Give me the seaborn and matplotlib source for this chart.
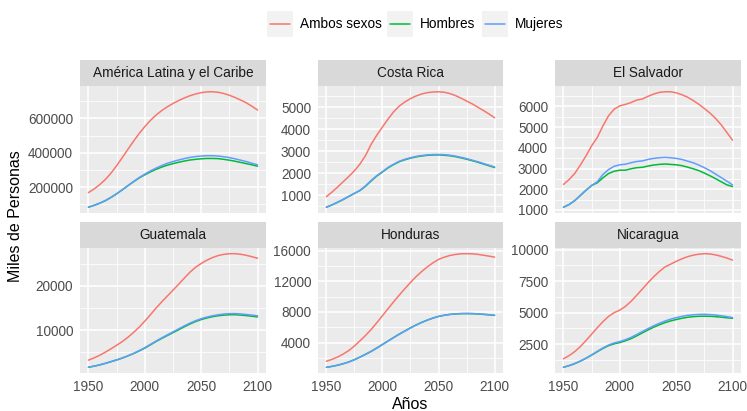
import matplotlib
matplotlib.use("Agg")
import matplotlib.pyplot as plt
from matplotlib.patches import Rectangle
from matplotlib.lines import Line2D
from matplotlib.ticker import FixedLocator
import pandas as pd
import seaborn as sns

# ---- data (thousands of people), five-year steps ----
years = list(range(1950, 2101, 5))

countries = ["América Latina y el Caribe", "Costa Rica", "El Salvador",
             "Guatemala", "Honduras", "Nicaragua"]
sexes = ["Ambos sexos", "Hombres", "Mujeres"]
sex_colors = ["#F8766D", "#00BA38", "#619CFF"]

lac_total = [169000, 190000, 215000, 245000, 282000, 325000, 372000, 420000,
             467000, 512000, 552000, 588000, 619000, 645000, 667000, 686000,
             703000, 718000, 731000, 741000, 749000, 753000, 754000, 751000,
             744000, 734000, 721000, 706000, 690000, 670000, 648000]
lac_male = [84000, 95000, 107000, 122000, 141000, 162000, 185000, 209000,
            232000, 254000, 272000, 289000, 304000, 317000, 328000, 337000,
            345000, 352000, 358000, 362000, 365000, 367000, 367000, 366000,
            362000, 357000, 351000, 344000, 337000, 330000, 322000]
lac_female = [85000, 95000, 108000, 123000, 141000, 162000, 185000, 209000,
              233000, 256000, 276000, 295000, 311000, 326000, 339000, 349000,
              358000, 366000, 373000, 378000, 381000, 383000, 383000, 381000,
              377000, 372000, 365000, 357000, 349000, 339000, 330000]

cr_total = [940, 1150, 1380, 1620, 1860, 2120, 2430, 2820,
            3330, 3740, 4110, 4470, 4800, 5060, 5250, 5400,
            5520, 5610, 5670, 5700, 5710, 5690, 5630, 5540,
            5420, 5290, 5160, 5010, 4860, 4700, 4530]
cr_male = [460, 565, 685, 810, 950, 1090, 1220, 1420,
           1660, 1880, 2060, 2250, 2400, 2530, 2620, 2690,
           2750, 2790, 2820, 2835, 2840, 2825, 2800, 2760,
           2705, 2645, 2575, 2505, 2425, 2345, 2265]
cr_female = [460, 570, 690, 820, 960, 1090, 1230, 1440,
             1680, 1900, 2080, 2270, 2420, 2550, 2640, 2710,
             2770, 2810, 2840, 2855, 2860, 2850, 2825, 2785,
             2730, 2670, 2600, 2530, 2450, 2370, 2290]

sv_total = [2230, 2470, 2760, 3170, 3610, 4100, 4500, 5060,
            5550, 5870, 6030, 6100, 6190, 6310, 6360, 6490,
            6600, 6680, 6710, 6710, 6660, 6570, 6450, 6290,
            6110, 5900, 5680, 5420, 5110, 4740, 4370]
sv_male = [1130, 1260, 1450, 1700, 1950, 2180, 2310, 2550,
           2760, 2870, 2920, 2920, 2990, 3040, 3060, 3120,
           3170, 3200, 3220, 3200, 3180, 3140, 3070, 2990,
           2900, 2780, 2650, 2510, 2360, 2210, 2130]
sv_female = [1130, 1260, 1450, 1700, 1950, 2180, 2360, 2710,
             2950, 3110, 3180, 3210, 3280, 3340, 3370, 3440,
             3490, 3520, 3540, 3520, 3490, 3440, 3360, 3280,
             3170, 3040, 2900, 2730, 2560, 2390, 2210]

gt_total = [3240, 3750, 4340, 5040, 5810, 6600, 7430, 8400,
            9490, 10700, 12060, 13500, 15000, 16400, 17720, 19050,
            20370, 21750, 23090, 24200, 25070, 25800, 26400, 26850,
            27130, 27270, 27280, 27150, 26910, 26600, 26250]
gt_male = [1620, 1880, 2160, 2510, 2900, 3290, 3720, 4200,
           4730, 5320, 5950, 6700, 7450, 8140, 8800, 9450,
           10100, 10770, 11400, 11950, 12400, 12760, 13050, 13260,
           13400, 13480, 13500, 13420, 13300, 13160, 13000]
gt_female = [1650, 1900, 2180, 2520, 2900, 3280, 3700, 4200,
             4750, 5380, 6050, 6800, 7550, 8270, 8950, 9630,
             10300, 10970, 11600, 12150, 12600, 12960, 13250, 13480,
             13650, 13730, 13750, 13670, 13550, 13410, 13250]

hn_total = [1580, 1830, 2130, 2520, 2980, 3570, 4250, 4960,
            5740, 6610, 7520, 8430, 9340, 10210, 11040, 11850,
            12610, 13280, 13880, 14400, 14850, 15140, 15360, 15500,
            15580, 15600, 15580, 15510, 15400, 15280, 15150]
hn_male = [790, 915, 1065, 1260, 1490, 1790, 2130, 2500,
           2880, 3320, 3770, 4230, 4680, 5120, 5530, 5940,
           6310, 6650, 6940, 7210, 7430, 7570, 7680, 7740,
           7780, 7790, 7780, 7740, 7690, 7630, 7560]
hn_female = [790, 915, 1065, 1260, 1490, 1780, 2120, 2480,
             2860, 3300, 3750, 4210, 4660, 5100, 5510, 5920,
             6300, 6640, 6940, 7200, 7420, 7570, 7680, 7750,
             7800, 7810, 7800, 7760, 7710, 7650, 7590]

ni_total = [1330, 1580, 1900, 2300, 2780, 3290, 3800, 4280,
            4700, 5000, 5200, 5500, 5900, 6380, 6880, 7380,
            7850, 8270, 8630, 8850, 9080, 9280, 9450, 9570,
            9650, 9690, 9670, 9590, 9480, 9340, 9180]
ni_male = [650, 780, 940, 1140, 1370, 1620, 1890, 2150,
           2370, 2520, 2620, 2760, 2930, 3150, 3390, 3620,
           3840, 4030, 4200, 4340, 4450, 4550, 4630, 4680,
           4710, 4720, 4710, 4680, 4640, 4590, 4550]
ni_female = [660, 790, 950, 1150, 1380, 1640, 1920, 2190,
             2420, 2590, 2700, 2850, 3030, 3260, 3500, 3730,
             3950, 4150, 4330, 4480, 4600, 4700, 4780, 4830,
             4860, 4870, 4850, 4810, 4750, 4680, 4610]

series = {
    countries[0]: (lac_total, lac_male, lac_female),
    countries[1]: (cr_total, cr_male, cr_female),
    countries[2]: (sv_total, sv_male, sv_female),
    countries[3]: (gt_total, gt_male, gt_female),
    countries[4]: (hn_total, hn_male, hn_female),
    countries[5]: (ni_total, ni_male, ni_female),
}

y_breaks = {
    countries[0]: [200000, 400000, 600000],
    countries[1]: [1000, 2000, 3000, 4000, 5000],
    countries[2]: [1000, 2000, 3000, 4000, 5000, 6000],
    countries[3]: [10000, 20000],
    countries[4]: [4000, 8000, 12000, 16000],
    countries[5]: [2500, 5000, 7500, 10000],
}
x_breaks = [1950, 2000, 2050, 2100]
x_minor = [1975, 2025, 2075]

rows = []
for c, vals in series.items():
    for s, v in zip(sexes, vals):
        for yr, val in zip(years, v):
            rows.append({"País": c, "Sexo": s, "Año": yr, "Población": val})
df = pd.DataFrame(rows)

# ---- figure ----
sns.set_style("white")
plt.rcParams["font.family"] = ["Liberation Sans", "DejaVu Sans"]

W, H = 747, 411
fig = plt.figure(figsize=(W / 100, H / 100), dpi=100)


def fx(px):
    return px / W


def fy(py):
    return 1 - py / H


col_x0 = [80, 318, 555]
col_x1 = [266, 503, 741]
row_top = [86, 248]
row_bot = [213, 373]
strip_h = 26

tick_col = "#4D4D4D"
for i, c in enumerate(countries):
    r, k = divmod(i, 3)
    x0, x1 = col_x0[k], col_x1[k]
    t, b = row_top[r], row_bot[r]
    ax = fig.add_axes([fx(x0), fy(b), (x1 - x0) / W, (b - t) / H])
    ax.set_facecolor("#EBEBEB")
    for sp in ax.spines.values():
        sp.set_visible(False)

    sub = df[df["País"] == c]
    sns.lineplot(data=sub, x="Año", y="Población", hue="Sexo",
                 hue_order=sexes, palette=sex_colors, ax=ax,
                 legend=False, linewidth=1.1, estimator=None)

    # limits with 5% expansion, like the default continuous scale
    ymin, ymax = sub["Población"].min(), sub["Población"].max()
    rng = ymax - ymin
    ax.set_ylim(ymin - 0.05 * rng, ymax + 0.05 * rng)
    ax.set_xlim(1950 - 0.05 * 150, 2100 + 0.05 * 150)

    yb = y_breaks[c]
    step = yb[1] - yb[0]
    yminor = [yb[0] - step / 2] + [v + step / 2 for v in yb]
    ax.yaxis.set_major_locator(FixedLocator(yb))
    ax.yaxis.set_minor_locator(FixedLocator(yminor))
    ax.set_yticklabels([str(v) for v in yb])
    ax.xaxis.set_major_locator(FixedLocator(x_breaks))
    ax.xaxis.set_minor_locator(FixedLocator(x_minor))
    ax.set_xticklabels([str(v) for v in x_breaks])

    ax.set_axisbelow(True)
    ax.grid(which="major", color="white", linewidth=1.1)
    ax.grid(which="minor", color="white", linewidth=0.55)
    ax.tick_params(which="minor", length=0)
    ax.tick_params(axis="y", which="major", length=3.5, width=0.8,
                   color="#333333", labelcolor=tick_col, labelsize=9.8, pad=1.5)
    if r == 0:
        ax.tick_params(axis="x", which="major", length=0, labelbottom=False)
    else:
        ax.tick_params(axis="x", which="major", length=3.5, width=0.8,
                       color="#333333", labelcolor=tick_col, labelsize=9.8,
                       pad=1.5)
    ax.set_xlabel("")
    ax.set_ylabel("")

    # facet strip
    ph = b - t
    ax.add_patch(Rectangle((0, 1), 1, strip_h / ph, transform=ax.transAxes,
                           clip_on=False, facecolor="#D9D9D9",
                           edgecolor="none"))
    ax.text(0.5, 1 + strip_h / ph / 2, c, transform=ax.transAxes,
            ha="center", va="center", fontsize=9.8, color="#1A1A1A")

# axis titles
fig.text(fx(16), fy(216), "Miles de Personas", rotation=90,
         ha="center", va="center", fontsize=11.5, color="black")
fig.text(fx(410), fy(404), "Años", ha="center", va="center",
         fontsize=11.5, color="black")

# legend on top
key_x = [267, 387, 482]
for kx, s, col in zip(key_x, sexes, sex_colors):
    fig.add_artist(Rectangle((fx(kx), fy(37)), 26 / W, 26 / H,
                             transform=fig.transFigure,
                             facecolor="#F2F2F2", edgecolor="none"))
    fig.add_artist(Line2D([fx(kx + 3), fx(kx + 23)], [fy(24), fy(24)],
                          transform=fig.transFigure, color=col,
                          linewidth=1.1))
    fig.text(fx(kx + 33), fy(24), s, ha="left", va="center",
             fontsize=9.8, color="black")

fig.savefig("out.png", dpi=100, facecolor="white")
